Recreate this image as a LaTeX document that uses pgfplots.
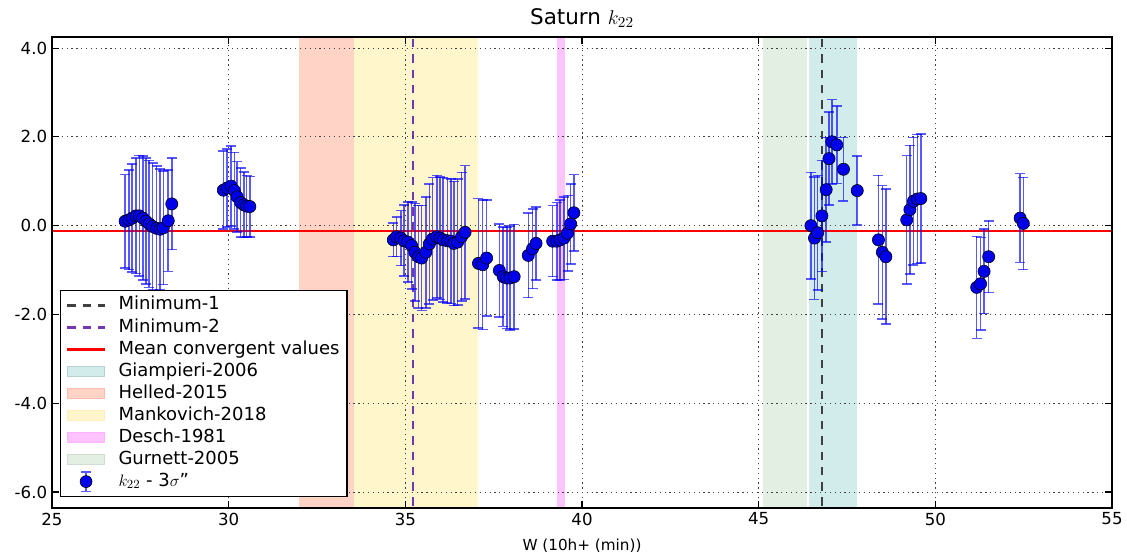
\documentclass[border=0pt]{standalone}
\usepackage{fontspec}
\setmainfont{DejaVu Sans}
\usepackage{pgfplots}
\pgfplotsset{compat=1.18}
\usepackage{pgfplotstable}

\definecolor{giam}{RGB}{210,236,236}
\definecolor{hell}{RGB}{255,212,198}
\definecolor{mank}{RGB}{255,246,204}
\definecolor{desch}{RGB}{255,196,255}
\definecolor{gurn}{RGB}{228,239,228}
\definecolor{minb}{RGB}{115,55,175}
\definecolor{ebar}{RGB}{0,0,255}
\definecolor{mkfill}{RGB}{0,0,235}
\definecolor{meanred}{RGB}{255,0,0}

\pgfplotsset{
  linelegend/.style={legend image code/.code={\draw[##1] (0bp,0bp) -- (27bp,0bp);}},
  boxlegend/.style={legend image code/.code={\draw[##1] (0bp,-3.8bp) rectangle (27bp,3.8bp);}},
}

\pgfplotstableread{
x y e
27.07 0.10 1.05
27.18 0.13 1.12
27.27 0.17 1.22
27.38 0.22 1.30
27.47 0.22 1.36
27.57 0.17 1.40
27.66 0.10 1.42
27.75 0.04 1.43
27.85 -0.02 1.43
27.96 -0.06 1.40
28.06 -0.08 1.36
28.15 -0.05 1.28
28.29 0.11 1.14
28.39 0.49 1.03
29.85 0.80 0.88
29.96 0.85 0.88
30.07 0.89 0.90
30.16 0.79 0.86
30.24 0.65 0.79
30.34 0.52 0.78
30.43 0.47 0.74
30.51 0.44 0.69
30.60 0.43 0.68
34.66 -0.32 0.38
34.75 -0.25 0.45
34.87 -0.28 0.62
34.96 -0.34 0.80
35.07 -0.37 0.90
35.18 -0.45 0.98
35.27 -0.60 1.10
35.37 -0.70 1.15
35.46 -0.73 1.18
35.58 -0.60 1.25
35.68 -0.41 1.35
35.77 -0.30 1.38
35.89 -0.25 1.38
35.98 -0.28 1.38
36.07 -0.32 1.40
36.19 -0.34 1.40
36.29 -0.35 1.40
36.37 -0.40 1.40
36.48 -0.37 1.42
36.59 -0.25 1.45
36.69 -0.15 1.50
37.07 -0.85 1.46
37.19 -0.88 1.46
37.30 -0.73 1.31
37.66 -1.01 1.05
37.77 -1.15 1.12
37.87 -1.18 1.14
37.96 -1.18 1.17
38.08 -1.15 1.18
38.48 -0.67 0.95
38.60 -0.52 0.90
38.70 -0.40 0.82
39.17 -0.35 0.80
39.29 -0.35 0.87
39.38 -0.32 0.90
39.49 -0.28 0.93
39.59 -0.17 0.85
39.68 0.04 0.90
39.77 0.29 0.86
46.48 0.00 1.20
46.58 -0.28 1.38
46.67 -0.16 1.29
46.79 0.22 1.25
46.91 0.81 1.18
46.99 1.51 1.05
47.07 1.89 0.95
47.21 1.82 0.87
47.40 1.27 0.72
47.79 0.79 0.78
48.39 -0.32 1.45
48.50 -0.60 1.50
48.60 -0.70 1.52
49.19 0.13 1.45
49.28 0.36 1.45
49.38 0.55 1.44
49.49 0.60 1.45
49.59 0.61 1.45
51.17 -1.39 1.15
51.28 -1.31 1.04
51.38 -1.03 0.95
51.51 -0.70 0.81
52.40 0.17 1.00
52.49 0.05 1.04
}\kdata

\begin{document}
\begin{tikzpicture}
\begin{axis}[
  scale only axis,
  width=763.2bp, height=339.1bp,
  xmin=25, xmax=55, ymin=-6.36, ymax=4.25,
  xtick={25,30,35,40,45,50,55},
  xticklabels={25,30,35,40,45,50,55},
  ytick={-6,-4,-2,0,2,4},
  yticklabels={-6.0,-4.0,-2.0,0.0,2.0,4.0},
  tick label style={font=\fontsize{12}{14}\selectfont},
  tick align=inside,
  major tick length=5bp,
  minor tick num=0,
  tick style={black, line width=0.8bp},
  axis line style={black, line width=1bp},
  grid=major,
  major grid style={black!75, line width=0.6bp, dash pattern=on 0.9bp off 2.6bp},
  axis on top,
  title={Saturn $k_{22}$},
  title style={font=\fontsize{15.5}{18}\selectfont, yshift=-3bp},
  xlabel={W (10h+ (min))},
  xlabel style={font=\fontsize{11}{13}\selectfont, yshift=-3bp},
  legend style={at={(0.0075,0.023)}, anchor=south west, draw=black, line width=0.9bp,
    fill=white, font=\fontsize{13}{15}\selectfont, cells={anchor=west},
    nodes={inner sep=1.5bp, text height=9.5bp, text depth=3bp},
    row sep=0.35bp, column sep=7.5bp, inner xsep=4bp, inner ysep=3bp},
]
% legend entries
\addlegendimage{linelegend, black!75, line width=1.7bp, dash pattern=on 6bp off 5bp}
\addlegendentry{Minimum-1}
\addlegendimage{linelegend, minb, line width=1.7bp, dash pattern=on 6bp off 5bp}
\addlegendentry{Minimum-2}
\addlegendimage{linelegend, color=meanred, line width=1.5bp}
\addlegendentry{Mean convergent values}
\addlegendimage{boxlegend, fill=giam, draw=giam!88!black}
\addlegendentry{Giampieri-2006}
\addlegendimage{boxlegend, fill=hell, draw=hell!88!red}
\addlegendentry{Helled-2015}
\addlegendimage{boxlegend, fill=mank, draw=mank!92!orange}
\addlegendentry{Mankovich-2018}
\addlegendimage{boxlegend, fill=desch, draw=desch!92!magenta}
\addlegendentry{Desch-1981}
\addlegendimage{boxlegend, fill=gurn, draw=gurn!92!black}
\addlegendentry{Gurnett-2005}
\addlegendimage{legend image code/.code={\draw[ebar, opacity=0.65, line width=1.1bp] (13.5bp,-7bp) -- (13.5bp,7bp) (10bp,-7bp) -- (17bp,-7bp) (10bp,7bp) -- (17bp,7bp); \fill[mkfill, draw=black, line width=0.4bp] (13.5bp,0bp) circle (4.3bp);}}
\addlegendentry{$k_{22}$ - 3$\sigma$"}

% bands
\addplot[fill=hell, draw=none, forget plot] coordinates {(32.0,-7) (33.55,-7) (33.55,5) (32.0,5)} -- cycle;
\addplot[fill=mank, draw=none, forget plot] coordinates {(33.55,-7) (37.05,-7) (37.05,5) (33.55,5)} -- cycle;
\addplot[fill=desch, draw=none, forget plot] coordinates {(39.28,-7) (39.52,-7) (39.52,5) (39.28,5)} -- cycle;
\addplot[fill=gurn, draw=none, forget plot] coordinates {(45.12,-7) (46.37,-7) (46.37,5) (45.12,5)} -- cycle;
\addplot[fill=giam, draw=none, forget plot] coordinates {(46.42,-7) (47.78,-7) (47.78,5) (46.42,5)} -- cycle;

% lines
\addplot[black!75, line width=1.2bp, dash pattern=on 6bp off 5bp, forget plot] coordinates {(46.79,-7) (46.79,5)};
\addplot[minb, line width=1.2bp, dash pattern=on 6bp off 5bp, forget plot] coordinates {(35.22,-7) (35.22,5)};
\addplot[meanred, line width=1bp, forget plot] coordinates {(25,-0.12) (55,-0.12)};

% data
\addplot[only marks, mark=*, mark size=4.4bp,
  mark options={fill=mkfill, draw=black, line width=0.4bp, opacity=1},
  forget plot,
  error bars/.cd, y dir=both, y explicit,
  error bar style={ebar, opacity=0.65, line width=1.1bp},
  error mark options={rotate=90, ebar, opacity=0.65, mark size=3.6bp, line width=1.1bp}]
  table[x=x, y=y, y error=e] {\kdata};
\end{axis}
\pgfresetboundingbox
\path ([xshift=-37.44bp,yshift=-36bp]current axis.south west) rectangle ([xshift=10.8bp,yshift=26.64bp]current axis.north east);
\end{tikzpicture}
\end{document}
